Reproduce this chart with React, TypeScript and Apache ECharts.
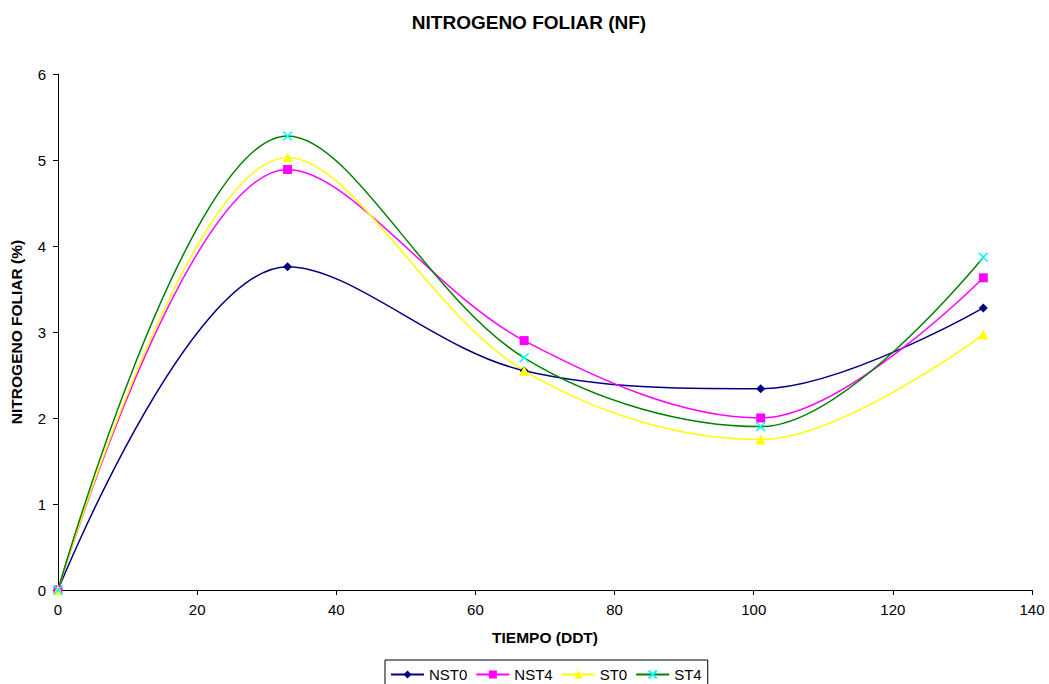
import React, { useEffect, useRef } from "react";
import * as echarts from "echarts";

const xValues = [0, 33, 67, 101, 133];
const nst0 = [0, 3.76, 2.55, 2.34, 3.28];
const nst4 = [0, 4.89, 2.9, 2.0, 3.63];
const st0 = [0, 5.03, 2.55, 1.75, 2.97];
const st4 = [0, 5.28, 2.7, 1.9, 3.87];
const seriesNames = ["NST0", "NST4", "ST0", "ST4"];

const pairs = (ys: number[]) => xValues.map((x, i) => [x, ys[i]]);

export default function App() {
  const ref = useRef<HTMLDivElement>(null);
  useEffect(() => {
    if (!ref.current) return;
    const chart = echarts.init(ref.current, null, { renderer: "svg" });
    const font = "'Liberation Sans', Arial, sans-serif";
    const mk = (name: string, data: number[], line: string, mcol: string, symbol: string, size: number, extra: any = {}) => ({
      name,
      type: "line",
      data: pairs(data),
      smooth: 0.35,
      symbol,
      symbolSize: size,
      lineStyle: { color: line, width: 1.5 },
      itemStyle: { color: mcol, ...extra },
    });
    chart.setOption({
      animation: false,
      backgroundColor: "#fff",
      textStyle: { fontFamily: font },
      title: {
        text: "NITROGENO FOLIAR (NF)",
        left: 524,
        textAlign: "center",
        top: 8,
        textStyle: { fontSize: 19, fontWeight: "bold", color: "#000", fontFamily: font },
      },
      grid: { left: 58, right: 17, top: 74, bottom: 94, containLabel: false, outerBoundsMode: "none" },
      xAxis: {
        type: "value",
        min: 0,
        max: 140,
        interval: 20,
        name: "TIEMPO (DDT)",
        nameLocation: "middle",
        nameGap: 39,
        nameTextStyle: { fontSize: 15.5, fontWeight: "bold", color: "#000", fontFamily: font },
        axisLine: { lineStyle: { color: "#000" } },
        axisTick: { show: true, length: 5, lineStyle: { color: "#000" } },
        axisLabel: { fontSize: 15, color: "#000", margin: 12, fontFamily: font },
        splitLine: { show: false },
      },
      yAxis: {
        type: "value",
        min: 0,
        max: 6,
        interval: 1,
        name: "NITROGENO FOLIAR (%)",
        nameLocation: "middle",
        nameGap: 34,
        nameTextStyle: { fontSize: 15.5, fontWeight: "bold", color: "#000", fontFamily: font },
        axisLine: { show: true, lineStyle: { color: "#000" } },
        axisTick: { show: true, length: 5, lineStyle: { color: "#000" } },
        axisLabel: { fontSize: 15, color: "#000", margin: 12, fontFamily: font },
        splitLine: { show: false },
      },
      legend: {
        data: seriesNames,
        left: 385,
        top: 660,
        itemWidth: 33,
        itemHeight: 10,
        itemGap: 8,
        padding: [7, 6, 8, 5],
        borderColor: "#000",
        borderWidth: 1,
        textStyle: { fontSize: 15, color: "#000", fontFamily: font },
      },
      series: [
        mk(seriesNames[0], nst0, "#000080", "#000080", "diamond", 9),
        mk(seriesNames[1], nst4, "#FF00FF", "#FF00FF", "rect", 9),
        mk(seriesNames[2], st0, "#FFFF00", "#FFFF00", "triangle", 10),
        mk(seriesNames[3], st4, "#008000", "#00FFFF", "path://M0,0L10,10M10,0L0,10", 9, {
          borderColor: "#00FFFF",
          borderWidth: 1.5,
        }),
      ],
    });
    return () => chart.dispose();
  }, []);
  return <div ref={ref} style={{ width: 1049, height: 684, position: "absolute", left: 0, top: 0 }} />;
}
